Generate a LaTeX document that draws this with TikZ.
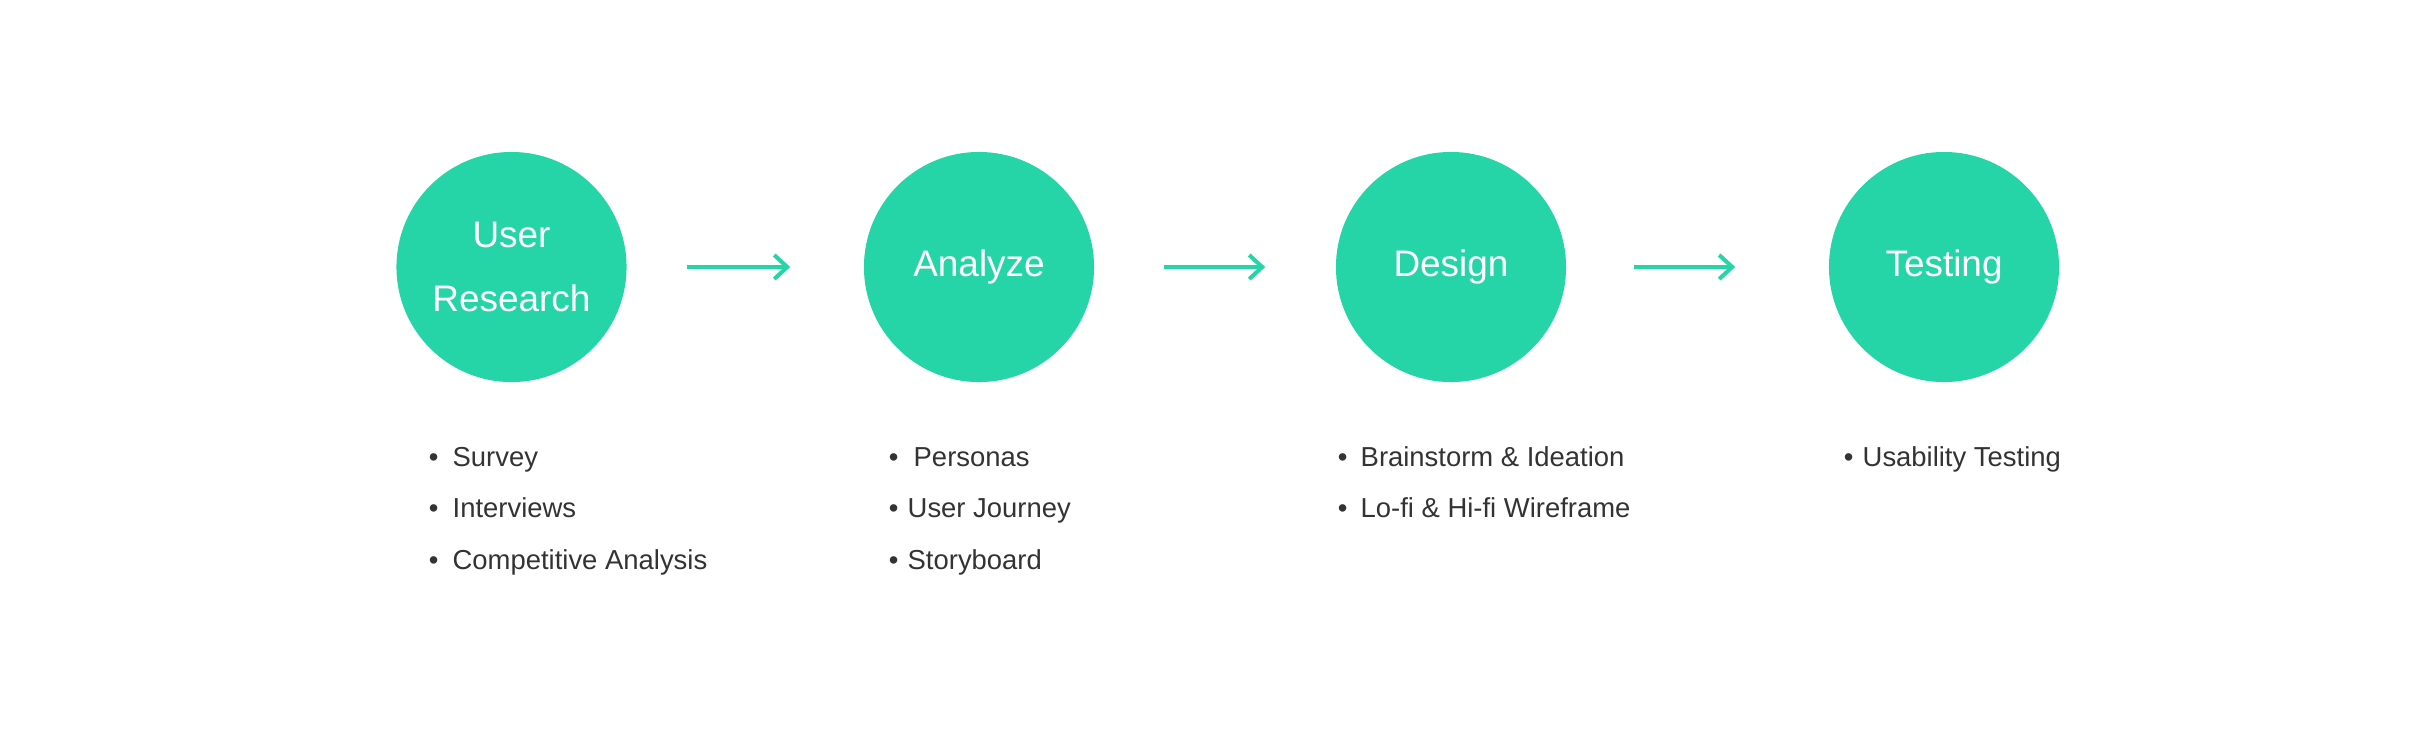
\documentclass[tikz,border=0pt]{standalone}
\usepackage{fontspec}
\setmainfont{Liberation Sans}
\usetikzlibrary{arrows.meta}
\definecolor{mint}{HTML}{25D4A7}
\definecolor{ink}{HTML}{333333}
\newlength\pxu
\setlength\pxu{0.01cm}
\newcommand\bitem[2]{\llap{\textbullet\hspace{#1\pxu}}#2}

\begin{document}
\begin{tikzpicture}[x=0.01cm, y=-0.01cm,
		stage/.style={circle, fill=mint, text=white, inner sep=0pt, minimum size=2.3cm,
			align=center, font=\fontsize{10.5}{18.2}\selectfont},
		point/.style={anchor=base west, inner sep=0pt, text=ink, font=\fontsize{7.8}{9}\selectfont},
		flow/.style={draw=mint, line width=0.04cm, -{Straight Barb[length=0.13cm, width=0.24cm]}}]
			%%%%% START %%%%%
			
			\useasboundingbox (0, 0) rectangle (2435, 738);
			
			\node[stage] (ur) at (511.5, 267) {User\\Research};
			\node[stage] (an) at (979, 267) {Analyze};
			\node[stage] (de) at (1451, 267) {Design};
			\node[stage] (te) at (1944, 267) {Testing};
			
			\draw[flow, shorten <=0.60cm, shorten >=0.73cm] (ur) -- (an);
			\draw[flow, shorten <=0.69cm, shorten >=0.70cm] (an) -- (de);
			\draw[flow, shorten <=0.67cm, shorten >=0.93cm] (de) -- (te);
			
			\node[point] (ur1) at (452, 466) {\bitem{14.2}{Survey}};
			\node[point] (ur2) at (452, 517.5) {\bitem{14.2}{Interviews}};
			\node[point] (ur3) at (452, 569) {\bitem{14.2}{Competitive Analysis}};
			
			\node[point] (an1) at (913, 466) {\bitem{15.2}{Personas}};
			\node[point] (an2) at (907, 517.5) {\bitem{9.2}{User Journey}};
			\node[point] (an3) at (907, 569) {\bitem{9.2}{Storyboard}};
			
			\node[point] (de1) at (1360, 466) {\bitem{13.2}{Brainstorm \& Ideation}};
			\node[point] (de2) at (1360, 517.5) {\bitem{13.2}{Lo-fi \& Hi-fi Wireframe}};
			
			\node[point] (te1) at (1862, 466) {\bitem{9.2}{Usability Testing}};
			
			%%%%% END %%%%%
		\end{tikzpicture}
\end{document}
